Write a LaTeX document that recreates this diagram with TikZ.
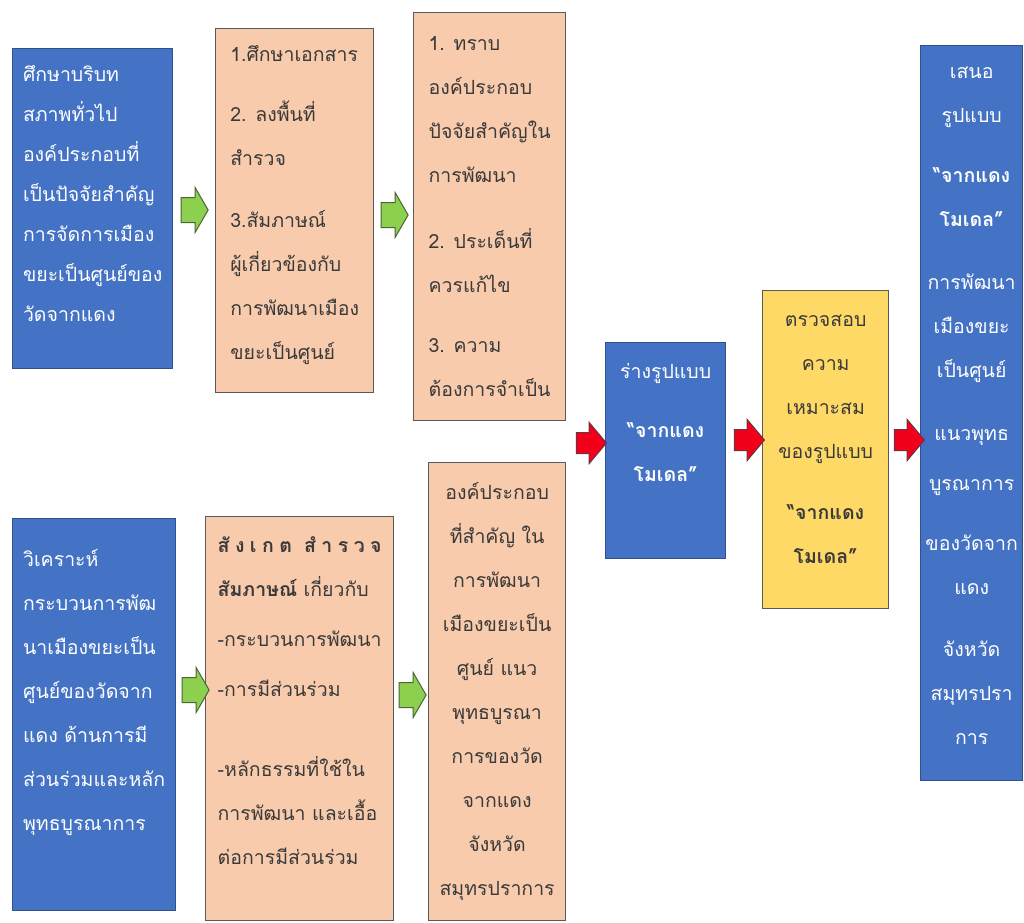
\documentclass[tikz,border=0pt]{standalone}
\usepackage{fontspec}
\newfontfamily\thaifont[Script=Thai]{Loma}
\usetikzlibrary{shapes.arrows}

\definecolor{boxblue}{HTML}{4472C4}
\definecolor{blueedge}{HTML}{2F528F}
\definecolor{peach}{HTML}{F8CBAD}
\definecolor{gold}{HTML}{FFD966}
\definecolor{boxedge}{HTML}{5A5A5A}
\definecolor{inkgray}{HTML}{3A3A3A}
\definecolor{leafgreen}{HTML}{8DCF4F}
\definecolor{leafedge}{HTML}{4A6636}
\definecolor{redhead}{HTML}{F2001A}
\definecolor{rededge}{HTML}{6A3346}

\tikzset{
  stagebox/.style={draw, line width=1.3pt, anchor=north west, inner sep=0pt,
    font=\thaifont\fontsize{19.5}{44}\selectfont},
  bluebox/.style={stagebox, fill=boxblue, draw=blueedge, text=white},
  peachbox/.style={stagebox, fill=peach, draw=boxedge, text=inkgray},
  goldbox/.style={stagebox, fill=gold, draw=boxedge, text=inkgray},
  greenarrow/.style={single arrow, draw=leafedge, fill=leafgreen, line width=1pt,
    minimum height=27pt, inner xsep=0pt, inner ysep=12pt,
    single arrow head extend=10pt, single arrow tip angle=120},
  redarrow/.style={single arrow, draw=rededge, fill=redhead, line width=1pt,
    minimum height=30pt, inner xsep=0pt, inner ysep=10pt,
    single arrow head extend=10pt, single arrow tip angle=100}
}

\begin{document}
\begin{tikzpicture}[x=1pt, y=-1pt]
  \useasboundingbox (0,0) rectangle (1024,922);

  % top row
  \node[bluebox, align=left, minimum width=160pt, minimum height=320pt, text depth=31pt,
    font=\thaifont\fontsize{19.5}{40}\selectfont] (study) at (12,48)
    {ศึกษาบริบท\\สภาพทั่วไป\\องค์ประกอบที่\\เป็นปัจจัยสำคัญ\\การจัดการเมือง\\ขยะเป็นศูนย์ของ\\วัดจากแดง};
  \node[peachbox, align=left, minimum width=158pt, minimum height=364pt, text depth=17pt] (methods) at (215,28)
    {1.ศึกษาเอกสาร\\[16pt]2. ลงพื้นที่\\สำรวจ\\[18pt]3.สัมภาษณ์\\ผู้เกี่ยวข้องกับ\\การพัฒนาเมือง\\ขยะเป็นศูนย์};
  \node[peachbox, align=left, minimum width=152pt, minimum height=408pt] (findings) at (413,12)
    {1. ทราบ\\องค์ประกอบ\\ปัจจัยสำคัญใน\\การพัฒนา\\[22pt]2. ประเด็นที่\\ควรแก้ไข\\[16pt]3. ความ\\ต้องการจำเป็น};

  % bottom row
  \node[bluebox, align=left, minimum width=163pt, minimum height=392pt, text depth=49pt] (analyse) at (12,518)
    {วิเคราะห์\\กระบวนการพัฒ\\นาเมืองขยะเป็น\\ศูนย์ของวัดจาก\\แดง ด้านการมี\\ส่วนร่วมและหลัก\\พุทธบูรณาการ};
  \node[peachbox, align=left, minimum width=188pt, minimum height=404pt, text depth=37pt] (observe) at (205,516)
    {{\bfseries\addfontfeature{LetterSpace=28}สังเกต สำรวจ}\\\textbf{สัมภาษณ์} เกี่ยวกับ\\[6pt]-กระบวนการพัฒนา\\[6pt]-การมีส่วนร่วม\\[36pt]-หลักธรรมที่ใช้ใน\\การพัฒนา และเอื้อ\\ต่อการมีส่วนร่วม};
  \node[peachbox, align=center, minimum width=137pt, minimum height=458pt] (elements) at (428,462)
    {องค์ประกอบ\\ที่สำคัญ ใน\\การพัฒนา\\เมืองขยะเป็น\\ศูนย์ แนว\\พุทธบูรณา\\การของวัด\\จากแดง\\จังหวัด\\สมุทรปราการ};

  % model column
  \node[bluebox, align=center, minimum width=120pt, minimum height=216pt, text depth=57pt] (draft) at (605,342)
    {ร่างรูปแบบ\\[15pt]\textbf{“จากแดง}\\\textbf{โมเดล”}};
  \node[goldbox, align=center, minimum width=126pt, minimum height=318pt, text depth=20pt] (check) at (762,290)
    {ตรวจสอบ\\ความ\\เหมาะสม\\ของรูปแบบ\\[17pt]\textbf{“จากแดง}\\\textbf{โมเดล”}};
  \node[bluebox, align=center, minimum width=102pt, minimum height=735pt, text depth=15pt] (present) at (920,45)
    {เสนอ\\รูปแบบ\\[16pt]\textbf{“จากแดง}\\\textbf{โมเดล”}\\[19pt]การพัฒนา\\เมืองขยะ\\เป็นศูนย์\\[19pt]แนวพุทธ\\[6pt]บูรณาการ\\[16pt]ของวัดจาก\\แดง\\[18pt]จังหวัด\\สมุทรปรา\\การ};

  % block arrows
  \node[greenarrow] (g1) at (191,210) {};
  \node[greenarrow] (g2) at (391,215) {};
  \node[greenarrow] (g3) at (192,690) {};
  \node[greenarrow] (g4) at (409,695) {};
  \node[redarrow] (r1) at (587,443) {};
  \node[redarrow] (r2) at (745,440) {};
  \node[redarrow] (r3) at (905,440) {};
\end{tikzpicture}
\end{document}
